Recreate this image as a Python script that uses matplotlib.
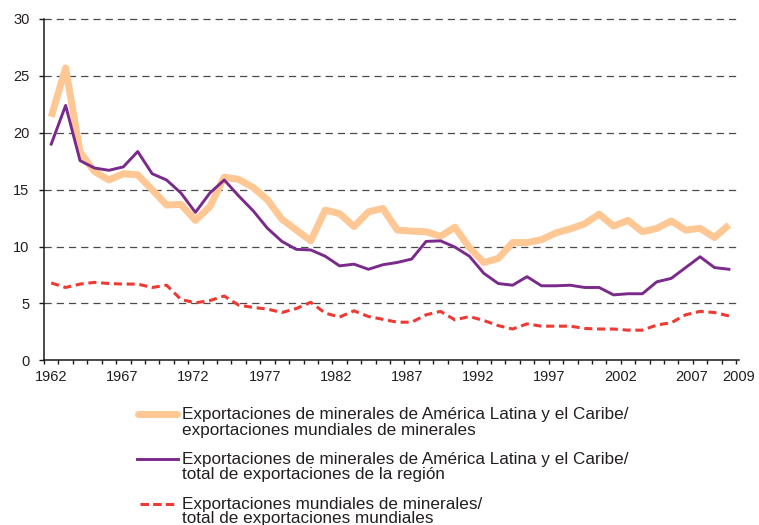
import matplotlib
matplotlib.use("Agg")
import matplotlib.pyplot as plt
from matplotlib.lines import Line2D
import numpy as np

# ---------------- data ----------------
years = list(range(1962, 2010))

share_world_minerals = [
    21.4, 25.7, 18.3, 16.6, 15.85, 16.4, 16.3, 15.0, 13.65, 13.7,
    12.3, 13.5, 16.1, 15.9, 15.2, 14.1, 12.4, 11.45, 10.5, 13.2,
    12.9, 11.75, 13.05, 13.35, 11.45, 11.35, 11.3, 10.9, 11.7, 9.9,
    8.6, 8.95, 10.35, 10.35, 10.6, 11.2, 11.55, 12.0, 12.85, 11.8,
    12.3, 11.3, 11.6, 12.25, 11.45, 11.6, 10.8, 11.9,
]

share_region_exports = [
    19.0, 22.4, 17.55, 16.9, 16.7, 17.0, 18.35, 16.4, 15.85, 14.7,
    13.0, 14.7, 15.85, 14.45, 13.15, 11.6, 10.45, 9.75, 9.7, 9.15,
    8.3, 8.45, 8.0, 8.4, 8.6, 8.9, 10.45, 10.5, 9.95, 9.15,
    7.65, 6.75, 6.6, 7.35, 6.55, 6.55, 6.6, 6.4, 6.4, 5.75,
    5.85, 5.85, 6.9, 7.2, 8.15, 9.1, 8.15, 8.0,
]

world_minerals_share = [
    6.8, 6.4, 6.7, 6.85, 6.75, 6.7, 6.7, 6.4, 6.6, 5.35,
    5.05, 5.25, 5.65, 4.85, 4.65, 4.5, 4.2, 4.55, 5.1, 4.15,
    3.8, 4.35, 3.85, 3.6, 3.35, 3.35, 4.0, 4.3, 3.55, 3.85,
    3.5, 3.05, 2.75, 3.2, 3.0, 3.0, 3.0, 2.8, 2.75, 2.75,
    2.65, 2.65, 3.1, 3.3, 4.0, 4.3, 4.2, 3.9,
]

x_labels = ["1962", "1967", "1972", "1977", "1982", "1987",
            "1992", "1997", "2002", "2007", "2009"]
y_ticks = [0, 5, 10, 15, 20, 25, 30]

legend_lines = [
    ["Exportaciones de minerales de América Latina y el Caribe/",
     "exportaciones mundiales de minerales"],
    ["Exportaciones de minerales de América Latina y el Caribe/",
     "total de exportaciones de la región"],
    ["Exportaciones mundiales de minerales/",
     "total de exportaciones mundiales"],
]

# ---------------- style ----------------
ORANGE = "#FEC793"
PURPLE = "#7A2A8B"
RED = "#EE3A33"
TEXT = "#231F20"
FONT = "Liberation Sans"

plt.rcParams["font.family"] = [FONT, "DejaVu Sans"]
plt.rcParams["lines.scale_dashes"] = False

W, H = 759, 525
fig = plt.figure(figsize=(W / 100, H / 100), dpi=100)
ax = fig.add_axes([44 / W, (H - 360.3) / H, 695 / W, 341.3 / H])

ax.plot(years, share_world_minerals, color=ORANGE, lw=5.0,
        solid_joinstyle="round", solid_capstyle="butt", zorder=3)
ax.plot(years, share_region_exports, color=PURPLE, lw=2.1,
        solid_joinstyle="round", zorder=4)
ax.plot(years, world_minerals_share, color=RED, lw=2.2,
        dashes=(5.8, 3.4), zorder=5)

ax.set_xlim(years[0] - 0.5, years[-1] + 0.5)
ax.set_ylim(0, 30)

# grid
for yv in y_ticks[1:]:
    ax.axhline(yv, color="#4a4a4a", lw=0.9, dashes=(5.2, 3.6), zorder=1,
               clip_on=False)

for s in ["top", "right"]:
    ax.spines[s].set_visible(False)
for s in ["left", "bottom"]:
    ax.spines[s].set_color("#1a1a1a")
    ax.spines[s].set_linewidth(1.1)

ax.set_yticks(y_ticks)
ax.set_yticklabels([str(v) for v in y_ticks])
ax.tick_params(axis="y", direction="out", length=3.6, width=1.0,
               color="#1a1a1a", pad=6.8, labelsize=10.5, labelcolor=TEXT)

# minor x ticks at year boundaries
ax.set_xticks(np.arange(years[0] - 0.5, years[-1] + 1.0, 1.0), minor=True)
ax.tick_params(axis="x", which="minor", direction="out", length=2.9,
               width=1.0, color="#1a1a1a")
# labels (evenly spaced slightly tighter than the years, last one at the edge)
lab_years = [int(t) for t in x_labels]
lab_pos = [years[0] + (y - years[0]) * 0.987 for y in lab_years[:-1]]
lab_pos.append(years[-1] + 0.7)
ax.set_xticks(lab_pos)
ax.set_xticklabels(x_labels)
ax.tick_params(axis="x", which="major", length=0, pad=7.0,
               labelsize=10.5, labelcolor=TEXT)

# ---------------- legend (manual) ----------------
def fx(px):
    return px / W

def fy(py):
    return 1 - py / H

handle_y = [414.3, 459.3, 504.0]
base_y = [(419.5, 434.5), (464.0, 479.0), (508.5, 523.5)]

fig.add_artist(Line2D([fx(138), fx(177)], [fy(handle_y[0])] * 2,
                      transform=fig.transFigure, color=ORANGE, lw=5.0,
                      solid_capstyle="round"))
fig.add_artist(Line2D([fx(137), fx(178)], [fy(handle_y[1])] * 2,
                      transform=fig.transFigure, color=PURPLE, lw=2.1))
fig.add_artist(Line2D([fx(140), fx(173.5)], [fy(handle_y[2])] * 2,
                      transform=fig.transFigure, color=RED, lw=2.2,
                      dashes=(6.1, 3.0)))

for lines, (b1, b2) in zip(legend_lines, base_y):
    fig.text(fx(182.5), fy(b1), lines[0], fontsize=12.3, color=TEXT,
             va="baseline", ha="left")
    fig.text(fx(182.5), fy(b2), lines[1], fontsize=12.3, color=TEXT,
             va="baseline", ha="left")

fig.savefig("out.png", dpi=100)
